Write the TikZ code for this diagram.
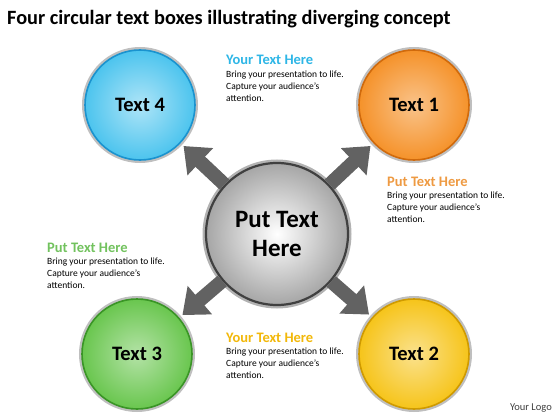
\documentclass[tikz,border=0pt]{standalone}
\usepackage{fontspec}
\setmainfont{Carlito}
\usetikzlibrary{positioning,arrows.meta}

\definecolor{skyfill}{HTML}{4CC4EE}
\definecolor{skyline}{HTML}{1A93CF}
\definecolor{skyhead}{HTML}{2EB6E6}
\definecolor{orangefill}{HTML}{F5922A}
\definecolor{orangeline}{HTML}{D06A0C}
\definecolor{orangehead}{HTML}{EE9A42}
\definecolor{greenfill}{HTML}{69C64E}
\definecolor{greenline}{HTML}{3A9526}
\definecolor{greenhead}{HTML}{72C25E}
\definecolor{goldfill}{HTML}{F6C41A}
\definecolor{goldline}{HTML}{CF9A00}
\definecolor{goldhead}{HTML}{F2B80A}
\definecolor{spokegray}{HTML}{626262}

\begin{document}
\begin{tikzpicture}[
  x=1pt, y=-1pt,
  ball/.style={circle, minimum size=110pt, inner sep=0pt, line width=1.6pt,
    preaction={draw=black!25, line width=6pt},
    font=\bfseries\fontsize{20.5}{24}\selectfont},
  hubball/.style={circle, minimum size=142pt, inner sep=0pt, line width=2.2pt,
    draw=black!75, inner color=white, outer color=black!35,
    preaction={draw=black!30, line width=7pt},
    align=center, font=\bfseries\fontsize{25}{29}\selectfont},
  spoke/.style={line width=14pt, draw=spokegray, shorten >=4pt,
    -{Triangle[width=36pt,length=23pt]}},
  head/.style={inner sep=0pt, anchor=base west, font=\bfseries\fontsize{14.5}{17}\selectfont},
  body/.style={inner sep=0pt, align=left, font=\fontsize{9.5}{12}\selectfont},
  font=\small
]
\useasboundingbox (0,0) rectangle (560,420);

\node[inner sep=0pt, anchor=base west, font=\bfseries\fontsize{20.3}{24}\selectfont] (title) at (7,25)
  {Four circular text boxes illustrating diverging concept};

\node[hubball] (hub) at (277,234) {Put Text\\Here};

\node[ball, draw=skyline, inner color=skyfill!45, outer color=skyfill,
  above left=129pt and 137pt of hub.center, anchor=center] (t4) {Text 4};
\node[ball, draw=orangeline, inner color=orangefill!55, outer color=orangefill,
  above right=129pt and 137pt of hub.center, anchor=center] (t1) {Text 1};
\node[ball, draw=greenline, inner color=greenfill!50, outer color=greenfill,
  below left=120pt and 140pt of hub.center, anchor=center] (t3) {Text 3};
\node[ball, draw=goldline, inner color=goldfill!50, outer color=goldfill,
  below right=120pt and 137pt of hub.center, anchor=center] (t2) {Text 2};

\draw[spoke] (hub) -- (t4);
\draw[spoke] (hub) -- (t1);
\draw[spoke] (hub) -- (t3);
\draw[spoke] (hub) -- (t2);

\node[head, text=skyhead] (head4) at (226,65) {Your Text Here};
\node[body, below=5pt of head4.south west, anchor=north west] (body4)
  {Bring your presentation to life.\\Capture your audience’s\\attention.};

\node[head, text=orangehead] (head1) at (387,186) {Put Text Here};
\node[body, below=5pt of head1.south west, anchor=north west] (body1)
  {Bring your presentation to life.\\Capture your audience’s\\attention.};

\node[head, text=greenhead] (head3) at (47,252) {Put Text Here};
\node[body, below=5pt of head3.south west, anchor=north west] (body3)
  {Bring your presentation to life.\\Capture your audience’s\\attention.};

\node[head, text=goldhead] (head2) at (226,342) {Your Text Here};
\node[body, below=5pt of head2.south west, anchor=north west] (body2)
  {Bring your presentation to life.\\Capture your audience’s\\attention.};

\node[inner sep=0pt, anchor=base east, font=\fontsize{10.5}{12}\selectfont, text=black!75] (logo) at (552,410) {Your Logo};
\end{tikzpicture}
\end{document}
